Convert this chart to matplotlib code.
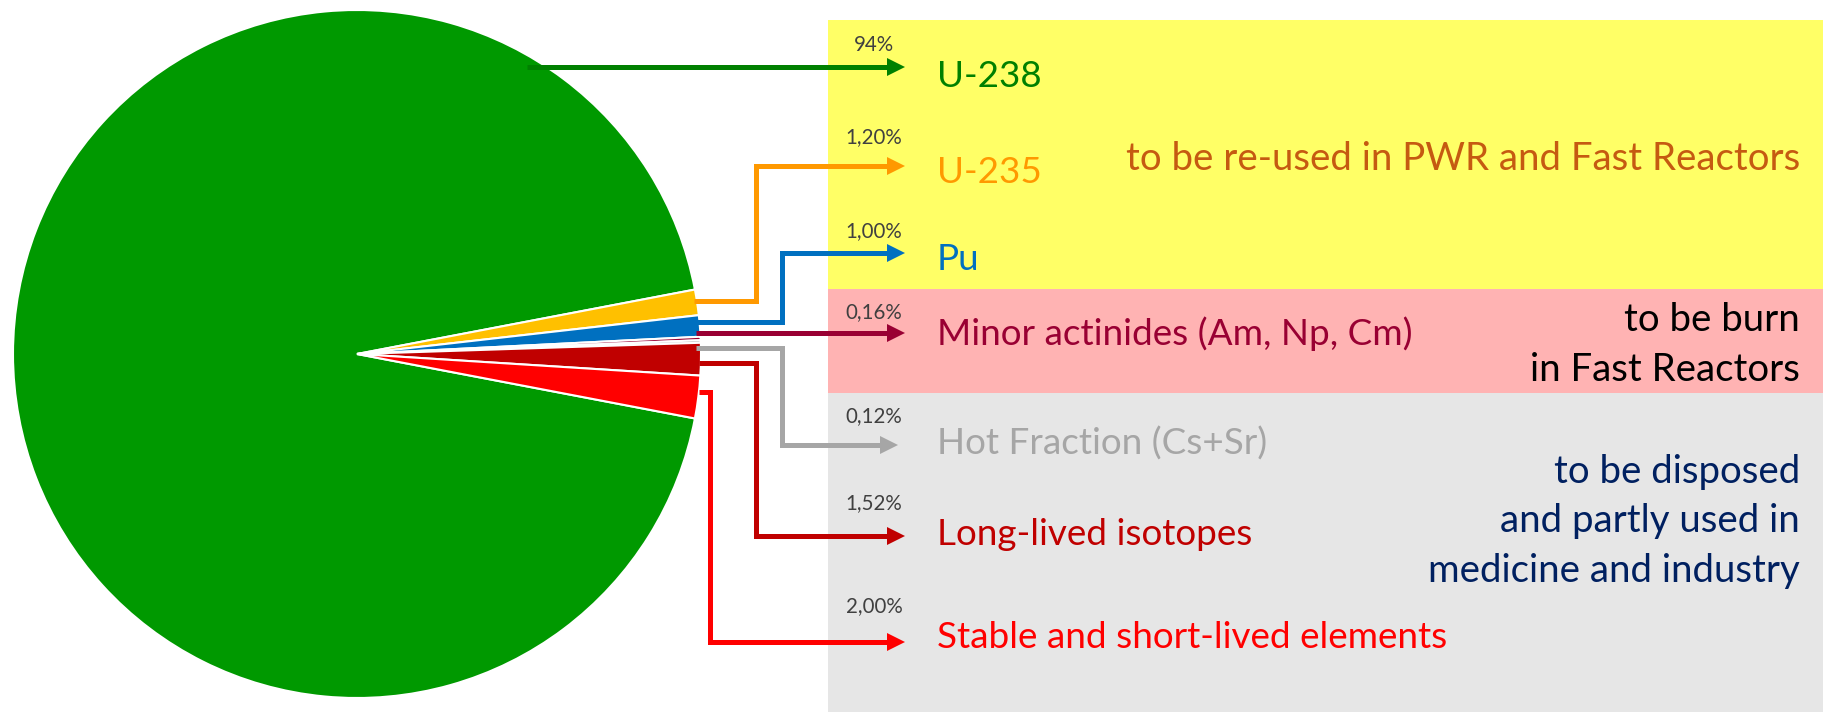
import numpy as np
import matplotlib.pyplot as plt
from matplotlib.patches import Rectangle, Polygon

plt.rcParams['font.family'] = ['Lato', 'DejaVu Sans']

# composition of spent fuel
names = ['U-238', 'U-235', 'Pu', 'Minor actinides (Am, Np, Cm)',
         'Hot Fraction (Cs+Sr)', 'Long-lived isotopes',
         'Stable and short-lived elements']
shares = [94.0, 1.20, 1.00, 0.16, 0.12, 1.52, 2.00]
share_txt = ['94%', '1,20%', '1,00%', '0,16%', '0,12%', '1,52%', '2,00%']
wedge_cols = ['#009900', '#FFC000', '#0070C0', '#990033', '#A6A6A6', '#C00000', '#FF0000']
text_cols = ['#008000', '#FF9900', '#0070C0', '#990033', '#A6A6A6', '#C00000', '#FF0000']

groups = ['to be re-used in PWR and Fast Reactors',
          'to be burn\nin Fast Reactors',
          'to be disposed\nand partly used in\nmedicine and industry']
group_cols = ['#C55A11', '#000000', '#002060']
group_bg = ['#FFFF66', '#FFB3B3', '#E6E6E6']

W, H = 1824, 712
def Y(p):
    return H - p

fig = plt.figure(figsize=(W / 100, H / 100), dpi=100)
ax = fig.add_axes([0, 0, 1, 1])

# background bands (top, bottom in px)
bands = [(20, 289), (289, 393), (393, 712)]
for (t, b), c in zip(bands, group_bg):
    ax.add_patch(Rectangle((828, Y(b)), W - 828, b - t, color=c, zorder=0, lw=0))

# pie, small slices centred on the right
start = -180 * (100 - shares[0]) / 100
ax.pie(shares, colors=wedge_cols, startangle=start, counterclock=False,
       center=(357, Y(354)), radius=344,
       wedgeprops=dict(edgecolor='white', linewidth=1.5))

# connectors: (start x, start y, bend x, end y, tip x)
conn = [(527, 67, None, 67, 905),
        (694, 301, 756, 166, 905),
        (696, 322, 782, 253, 905),
        (696, 333, None, 333, 905),
        (696, 348, 782, 445, 898),
        (699, 363, 756, 536, 905),
        (699, 392, 710, 642, 905)]
head_len, head_w = 17, 9
for (x0, y0, xb, y1, xt), c in zip(conn, text_cols):
    if xb is None:
        xs, ys = [x0, xt - head_len], [y0, y1]
    else:
        xs, ys = [x0, xb, xb, xt - head_len], [y0, y0, y1, y1]
    if c == '#FFC000':
        c = '#FF9900'
    ax.plot(xs, [Y(v) for v in ys], color=c, lw=3.6, solid_joinstyle='miter',
            solid_capstyle='butt', zorder=3)
    ax.add_patch(Polygon([(xt - head_len - 1, Y(y1) + head_w), (xt, Y(y1)),
                          (xt - head_len - 1, Y(y1) - head_w)],
                         closed=True, color=c, lw=0, zorder=3))

renderer = fig.canvas.get_renderer()
def fit(txt, width):
    w = txt.get_window_extent(renderer).width
    txt.set_fontsize(txt.get_fontsize() * width / w)

# labels and percentages
label_base = [87, 183, 270, 345, 455, 545, 648]
pct_base = [51, 143, 237, 318, 422, 509, 612]
labels = []
for n, c, yb in zip(names, text_cols, label_base):
    labels.append(ax.text(937, Y(yb), n, color=c, fontsize=24, va='baseline', ha='left', zorder=4))
fit(labels[-1], 510)
for t in labels:
    t.set_fontsize(labels[-1].get_fontsize())

pcts = []
for p, yb in zip(share_txt, pct_base):
    pcts.append(ax.text(874, Y(yb), p, color='#404040', fontsize=14, va='baseline', ha='center', zorder=4))
fit(pcts[1], 57)
for t in pcts:
    t.set_fontsize(pcts[1].get_fontsize())

# group notes
group_base = [[170], [331, 381], [483, 532, 582]]
gtexts = []
for g, c, bases in zip(groups, group_cols, group_base):
    for line, yb in zip(g.split('\n'), bases):
        gtexts.append(ax.text(1800, Y(yb), line, color=c, fontsize=24, va='baseline', ha='right', zorder=4))
fit(gtexts[0], 674)
for t in gtexts:
    t.set_fontsize(gtexts[0].get_fontsize())

ax.set_xlim(0, W)
ax.set_ylim(0, H)
ax.set_aspect('auto')
ax.axis('off')
fig.savefig('out.png', dpi=100)
